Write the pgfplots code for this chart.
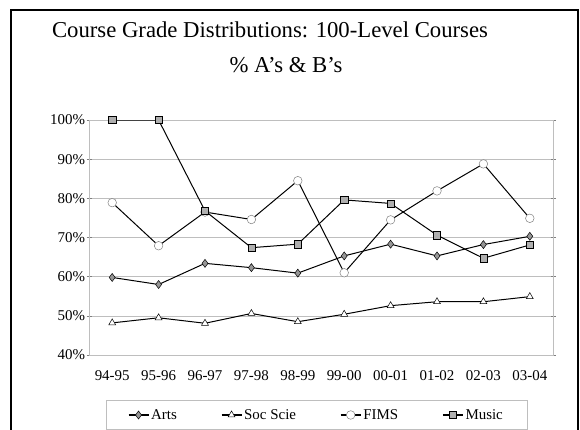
\documentclass[border=0pt]{standalone}
\usepackage{fontspec}
\setmainfont{Liberation Serif}
\usepackage{pgfplots}
\pgfplotsset{compat=1.18}
\definecolor{gridgray}{RGB}{190,190,190}
\definecolor{markgray}{RGB}{150,150,150}
\definecolor{sqgray}{RGB}{175,175,175}
\begin{document}
\begin{tikzpicture}
\path[use as bounding box] (0bp,0bp) rectangle (580bp,430bp);
\draw[line width=1.3bp] (11bp,-5bp) -- (11bp,420bp) -- (578bp,420bp) -- (578bp,-5bp);
\node[font=\fontsize{22.8}{27}\selectfont, anchor=base, inner sep=0pt] at (270bp,392bp) {Course Grade Distributions: 100-Level Courses};
\node[font=\fontsize{22.8}{27}\selectfont, anchor=base, inner sep=0pt] at (286bp,357bp) {\% A's \& B's};
\begin{axis}[
  at={(89bp,75bp)}, anchor=south west,
  scale only axis, width=464bp, height=235bp,
  xmin=-0.5, xmax=9.5, ymin=40, ymax=100,
  xtick={0,...,9},
  xticklabels={94-95,95-96,96-97,97-98,98-99,99-00,00-01,01-02,02-03,03-04},
  x tick style={draw=none},
  extra x ticks={0.5,1.5,...,8.5},
  extra x tick labels={},
  extra x tick style={major tick length=7bp, tick style={draw=gray, line width=0.6bp}, grid=none},
  ytick={40,50,...,100},
  yticklabel={\pgfmathprintnumber{\tick}\%},
  y tick style={draw=gray, line width=0.6bp},
  major tick length=5bp,
  tick align=center,
  /pgf/number format/assume math mode=true,
  ymajorgrids,
  major grid style={draw=gridgray, line width=0.6bp},
  axis line style={draw=gridgray, line width=0.7bp},
  tick label style={font=\fontsize{15}{17}\selectfont},
  xticklabel style={yshift=-10bp},
  yticklabel style={xshift=2bp},
  legend columns=4,
  legend style={at={(0.49,-0.1915)}, anchor=north, draw=gridgray, line width=0.6bp,
    font=\fontsize{15}{17}\selectfont, inner xsep=22bp, inner ysep=7bp,
    /tikz/every even column/.append style={column sep=42bp}},
  legend cell align=left,
  legend image code/.code={\draw[mark repeat=2,mark phase=2, line width=1.3bp] plot coordinates {(0bp,0bp) (10bp,0bp) (20bp,0bp)};},
]
\addplot[black, line width=1bp, mark=diamond*, mark size=4bp, mark options={fill=markgray, draw=black, line width=0.5bp}]
  coordinates {(0,59.8) (1,58.0) (2,63.4) (3,62.3) (4,60.9) (5,65.3) (6,68.3) (7,65.3) (8,68.2) (9,70.3)};
\addlegendentry{Arts}
\addplot[black, line width=1bp, mark=triangle*, mark size=4bp, mark options={fill=white, draw=black, line width=0.5bp}]
  coordinates {(0,48.2) (1,49.5) (2,48.1) (3,50.6) (4,48.5) (5,50.4) (6,52.6) (7,53.6) (8,53.6) (9,54.9)};
\addlegendentry{Soc Scie}
\addplot[black, line width=1bp, mark=*, mark size=4.3bp, mark options={fill=white, draw=gray, line width=0.5bp}]
  coordinates {(0,78.9) (1,67.9) (2,76.5) (3,74.6) (4,84.5) (5,61.0) (6,74.5) (7,81.9) (8,88.8) (9,74.9)};
\addlegendentry{FIMS}
\addplot[black, line width=1bp, mark=square*, mark size=3.6bp, mark options={fill=sqgray, draw=black, line width=0.5bp}]
  coordinates {(0,100) (1,100) (2,76.8) (3,67.4) (4,68.3) (5,79.6) (6,78.7) (7,70.6) (8,64.7) (9,68.1)};
\addlegendentry{Music}
\end{axis}
\end{tikzpicture}
\end{document}
